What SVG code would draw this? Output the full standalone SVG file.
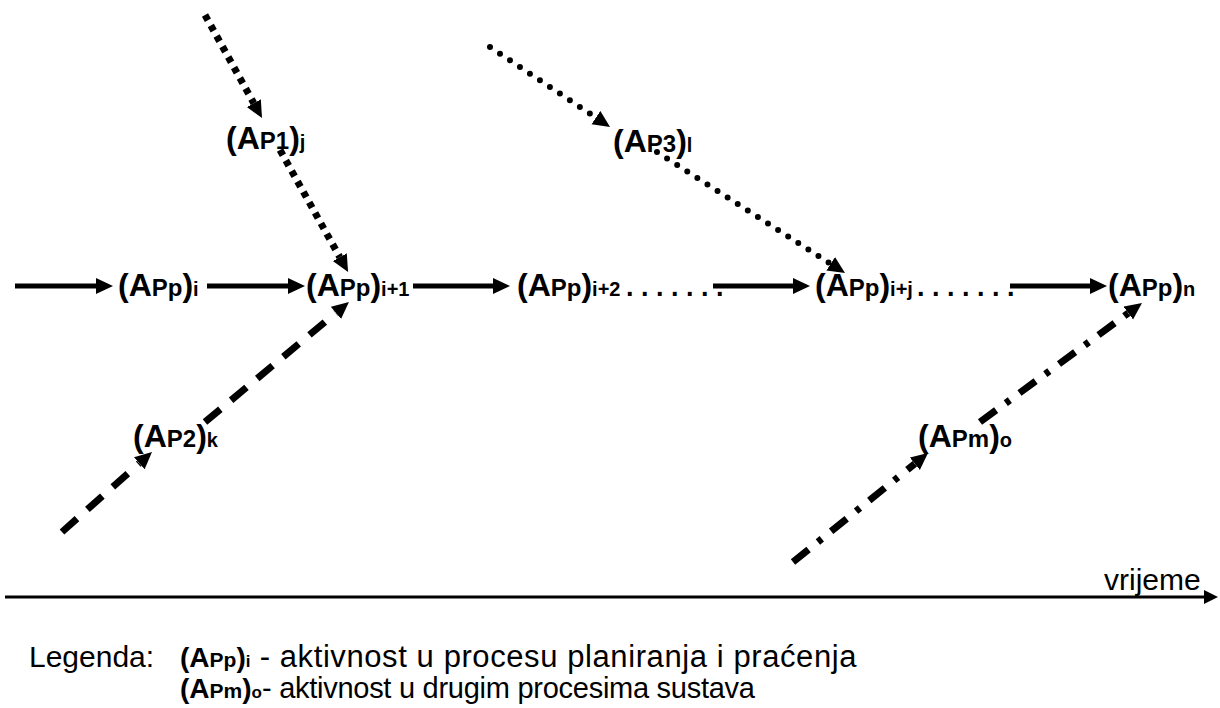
<svg xmlns="http://www.w3.org/2000/svg" width="1220" height="708" viewBox="0 0 1220 708">
  <style>
    text { font-family: "Liberation Sans", Arial, sans-serif; fill: #000; }
    .lbl { font-weight: bold; font-size: 32px; }
    .mid { font-size: 24px; }
    .sub { font-size: 20px; }
    .dots { font-weight: bold; font-size: 27px; }
    .reg { font-size: 30px; font-weight: normal; }
    .reg1 { font-size: 31px; font-weight: normal; }
    .reg2 { font-size: 29px; font-weight: normal; }
    .leg { font-weight: bold; font-size: 28px; }
    .legmid { font-size: 21px; }
    .legsub { font-size: 17px; }
    .solid { stroke: #000; stroke-width: 5; fill: none; }
    .sq { stroke: #000; stroke-width: 7; stroke-dasharray: 6 6; fill: none; }
    .rd { stroke: #000; stroke-width: 6; stroke-dasharray: 0 12; stroke-linecap: round; fill: none; }
    .dash { stroke: #000; stroke-width: 7; stroke-dasharray: 20 14; fill: none; }
    .dashdot { stroke: #000; stroke-width: 7; stroke-dasharray: 20 12 5 12; fill: none; }
    .axis { stroke: #000; stroke-width: 3; fill: none; }
  </style>
  <defs>
    <marker id="head" markerUnits="userSpaceOnUse" markerWidth="20" markerHeight="18" refX="0" refY="8" orient="auto">
      <path d="M0,0 L17,8 L0,16 z" fill="#000"/>
    </marker>
    <marker id="headAxis" markerUnits="userSpaceOnUse" markerWidth="16" markerHeight="16" refX="0" refY="7" orient="auto">
      <path d="M0,0 L14,7 L0,14 z" fill="#000"/>
    </marker>
  </defs>

  <!-- connectors -->
  <g id="connectors">
    <!-- main chain -->
    <line class="solid" x1="15" y1="286" x2="96" y2="286" marker-end="url(#head)"/>
    <line class="solid" x1="207" y1="286" x2="288" y2="286" marker-end="url(#head)"/>
    <line class="solid" x1="413" y1="286" x2="493" y2="286" marker-end="url(#head)"/>
    <line class="solid" x1="713" y1="286" x2="793" y2="286" marker-end="url(#head)"/>
    <line class="solid" x1="1010" y1="286" x2="1090" y2="286" marker-end="url(#head)"/>
    <!-- P1 inflow (square dots) -->
    <line class="sq" x1="205" y1="15" x2="253.8" y2="103.2" marker-end="url(#head)"/>
    <line class="sq" x1="280" y1="150" x2="339.8" y2="257.2" marker-end="url(#head)"/>
    <!-- P3 inflow (round dots) -->
    <line class="rd" x1="490" y1="47" x2="595.9" y2="117.6" marker-end="url(#head)"/>
    <line class="rd" x1="657" y1="152" x2="830.7" y2="263.8" marker-end="url(#head)"/>
    <!-- P2 inflow (dashed) -->
    <line class="dash" x1="62" y1="532" x2="139.3" y2="463.3" marker-end="url(#head)"/>
    <line class="dash" x1="205" y1="422" x2="335.9" y2="312.9" marker-end="url(#head)"/>
    <!-- Pm inflow (dash-dot) -->
    <line class="dashdot" x1="793" y1="562" x2="914.8" y2="463.7" marker-end="url(#head)"/>
    <line class="dashdot" x1="980" y1="422" x2="1128.3" y2="313.1" marker-end="url(#head)"/>
    <!-- time axis -->
    <line class="axis" x1="5" y1="597" x2="1204" y2="597" marker-end="url(#headAxis)"/>
  </g>

  <!-- nodes -->
  <g id="n-app-i"><text class="lbl" x="118" y="296">(A<tspan class="mid">Pp</tspan>)<tspan class="sub">i</tspan></text></g>
  <g id="n-app-i1"><text class="lbl" x="306" y="296">(A<tspan class="mid">Pp</tspan>)<tspan class="sub">i+1</tspan></text></g>
  <g id="n-app-i2"><text class="lbl" x="517" y="296">(A<tspan class="mid">Pp</tspan>)<tspan class="sub">i+2</tspan></text>
    <text class="dots" x="626" y="296">. . . . . . .</text></g>
  <g id="n-app-ij"><text class="lbl" x="815" y="296">(A<tspan class="mid">Pp</tspan>)<tspan class="sub">i+j</tspan></text>
    <text class="dots" x="917" y="296">. . . . . . .</text></g>
  <g id="n-app-n"><text class="lbl" x="1108" y="296">(A<tspan class="mid">Pp</tspan>)<tspan class="sub">n</tspan></text></g>
  <g id="n-ap1"><text class="lbl" x="226" y="149">(A<tspan class="mid">P1</tspan>)<tspan class="sub">j</tspan></text></g>
  <g id="n-ap3"><text class="lbl" x="613" y="152">(A<tspan class="mid">P3</tspan>)<tspan class="sub">l</tspan></text></g>
  <g id="n-ap2"><text class="lbl" x="133" y="447">(A<tspan class="mid">P2</tspan>)<tspan class="sub">k</tspan></text></g>
  <g id="n-apm"><text class="lbl" x="918" y="447">(A<tspan class="mid">Pm</tspan>)<tspan class="sub">o</tspan></text></g>

  <!-- axis label -->
  <g id="axis-label"><text class="reg" x="1104" y="590">vrijeme</text></g>

  <!-- legend -->
  <g id="legend">
    <text class="reg" x="29" y="667">Legenda:</text>
    <text x="180" y="667"><tspan class="leg">(A<tspan class="legmid">Pp</tspan>)<tspan class="legsub">i</tspan></tspan><tspan class="reg1" textLength="606" lengthAdjust="spacing"> - aktivnost u procesu planiranja i praćenja</tspan></text>
    <text x="180" y="698"><tspan class="leg">(A<tspan class="legmid">Pm</tspan>)<tspan class="legsub">o</tspan></tspan><tspan class="reg2" textLength="493" lengthAdjust="spacing">- aktivnost u drugim procesima sustava</tspan></text>
  </g>
</svg>
